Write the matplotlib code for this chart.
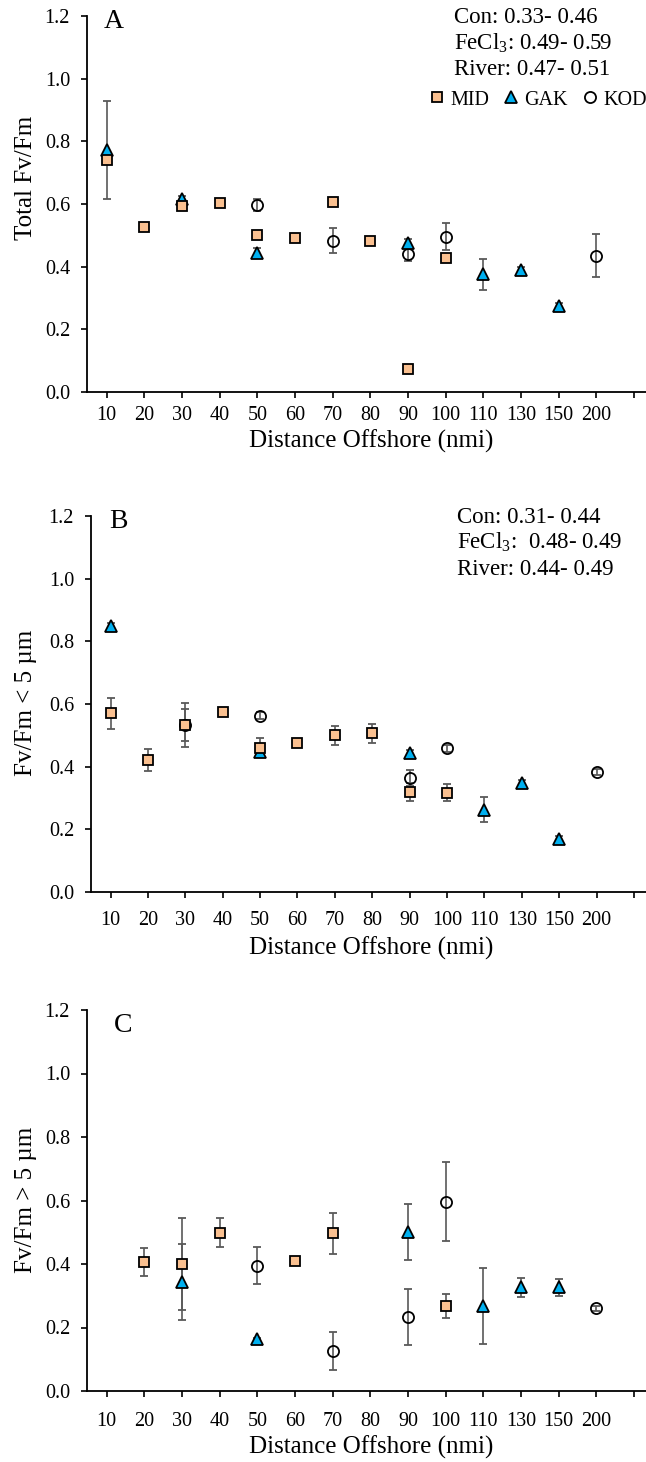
import numpy as np
import matplotlib
matplotlib.use("Agg")
import matplotlib.pyplot as plt
from matplotlib.lines import Line2D
from matplotlib.ticker import FormatStrFormatter

plt.rcParams['font.family'] = ['Liberation Serif', 'DejaVu Serif']
plt.rcParams['mathtext.fontset'] = 'custom'
plt.rcParams['mathtext.rm'] = 'Liberation Serif'
plt.rcParams['mathtext.it'] = 'Liberation Serif:italic'

nan = np.nan

# distance offshore categories (nmi)
distance = ['10', '20', '30', '40', '50', '60', '70', '80', '90', '100', '110', '130', '150', '200']

# Panel A: total Fv/Fm
a_mid = [0.740, 0.527, 0.594, 0.602, 0.500, 0.492, 0.606, 0.483, 0.072, 0.427, nan, nan, nan, nan]
a_mid_err = [0.0, 0.0, 0.0, 0.0, 0.0, 0.0, 0.0, 0.0, 0.0, 0.0, nan, nan, nan, nan]
a_gak = [0.773, nan, 0.615, nan, 0.443, nan, nan, nan, 0.477, nan, 0.376, 0.389, 0.274, nan]
a_gak_err = [0.157, nan, 0.010, nan, 0.015, nan, nan, nan, 0.010, nan, 0.050, 0.010, 0.010, nan]
a_kod = [nan, nan, nan, nan, 0.597, nan, 0.483, nan, 0.440, 0.496, nan, nan, nan, 0.435]
a_kod_err = [nan, nan, nan, nan, 0.020, nan, 0.040, nan, 0.022, 0.043, nan, nan, nan, 0.068]

# Panel B: Fv/Fm < 5 um
b_mid = [0.570, 0.421, 0.533, 0.573, 0.461, 0.477, 0.500, 0.506, 0.320, 0.317, nan, nan, nan, nan]
b_mid_err = [0.050, 0.035, 0.050, 0.005, 0.030, 0.005, 0.030, 0.030, 0.028, 0.028, nan, nan, nan, nan]
b_gak = [0.848, nan, nan, nan, 0.447, nan, nan, nan, 0.444, nan, 0.262, 0.349, 0.169, nan]
b_gak_err = [0.010, nan, nan, nan, 0.010, nan, nan, nan, 0.010, nan, 0.040, 0.010, 0.010, nan]
b_kod = [nan, nan, 0.533, nan, 0.563, nan, nan, nan, 0.364, 0.458, nan, nan, nan, 0.383]
b_kod_err = [nan, nan, 0.070, nan, 0.010, nan, nan, nan, 0.026, 0.012, nan, nan, nan, 0.010]

# Panel C: Fv/Fm > 5 um
c_mid = [nan, 0.405, 0.399, 0.499, nan, 0.411, 0.497, nan, nan, 0.268, nan, nan, nan, nan]
c_mid_err = [nan, 0.044, 0.145, 0.045, nan, 0.005, 0.064, nan, nan, 0.037, nan, nan, nan, nan]
c_gak = [nan, nan, 0.344, nan, 0.163, nan, nan, nan, 0.501, nan, 0.268, 0.326, 0.326, nan]
c_gak_err = [nan, nan, 0.120, nan, 0.005, nan, nan, nan, 0.089, nan, 0.120, 0.029, 0.028, nan]
c_kod = [nan, nan, nan, nan, 0.395, nan, 0.126, nan, 0.234, 0.596, nan, nan, nan, 0.260]
c_kod_err = [nan, nan, nan, nan, 0.058, nan, 0.059, nan, 0.088, 0.124, nan, nan, nan, 0.008]

W, H = 646, 1462
fig = plt.figure(figsize=(W / 100, H / 100), dpi=100)

MID_COLOR = '#FAC090'
GAK_COLOR = '#00B0F0'
ERR_COLOR = '#595959'


def add_axes_px(left, top, bottom):
    return fig.add_axes([left / W, 1 - bottom / H, 1 - left / W, (bottom - top) / H])


def draw_panel(ax, mid, mid_err, gak, gak_err, kod, kod_err):
    x = np.arange(len(distance))
    common = dict(linestyle='none', ecolor=ERR_COLOR, elinewidth=1.2, capsize=3.2,
                  capthick=1.2, markeredgecolor='black', markeredgewidth=1.3)
    ax.errorbar(x, kod, yerr=kod_err, fmt='o', ms=8, mfc='none', **common)
    ax.errorbar(x, gak, yerr=gak_err, fmt='^', ms=8.8, mfc=GAK_COLOR, **common)
    ax.errorbar(x, mid, yerr=mid_err, fmt='s', ms=7.6, mfc=MID_COLOR, **common)
    ax.set_xlim(-0.53, 14.32)
    ax.set_ylim(0, 1.2)
    ax.set_xticks(np.arange(len(distance) + 1))
    ax.set_xticklabels(distance + [''])
    ax.set_yticks(np.arange(0, 1.21, 0.2))
    ax.yaxis.set_major_formatter(FormatStrFormatter('%.1f'))
    for s in ['top', 'right']:
        ax.spines[s].set_visible(False)
    for s in ['left', 'bottom']:
        ax.spines[s].set_linewidth(1.3)
    ax.tick_params(direction='out', length=4, width=1.2, labelsize=14.5)
    ax.tick_params(axis='y', pad=8)


panels = [
    # left, top, bottom (px), data, ylabel, ylabel y (px), letter, letter pos
    (86.7, 16, 392, (a_mid, a_mid_err, a_gak, a_gak_err, a_kod, a_kod_err),
     'Total Fv/Fm', 178, 'A', 114, 22, 21, 413, 441),
    (90.7, 516, 892, (b_mid, b_mid_err, b_gak, b_gak_err, b_kod, b_kod_err),
     'Fv/Fm < 5 µm', 703, 'B', 118, 522, 25, 917, 948),
    (86.7, 1010, 1391, (c_mid, c_mid_err, c_gak, c_gak_err, c_kod, c_kod_err),
     'Fv/Fm > 5 µm', 1200, 'C', 123, 1025, 26, 1417, 1447),
]

axes = []
for left, top, bottom, data, ylab, ylab_y, letter, lx, ly, xpad, xtick_y, xlab_y in panels:
    ax = add_axes_px(left, top, bottom)
    draw_panel(ax, *data)
    ax.tick_params(axis='x', pad=xpad - 15)
    fig.text(26 / W, 1 - ylab_y / H, ylab, rotation=90, ha='center', va='center', fontsize=18)
    fig.text(371 / W, 1 - xlab_y / H, 'Distance Offshore (nmi)', ha='center', va='center', fontsize=18)
    fig.text(lx / W, 1 - ly / H, letter, ha='center', va='center', fontsize=20)
    axes.append(ax)

# treatment ranges
a_notes = ['Con: 0.33- 0.46', 'FeCl$_3$: 0.49- 0.59', 'River: 0.47- 0.51']
a_note_base = [22.7, 49.5, 75]
for txt, yb in zip(a_notes, a_note_base):
    fig.text(454 / W, 1 - yb / H, txt, ha='left', va='baseline', fontsize=16.5)

b_notes = ['Con: 0.31- 0.44', 'FeCl$_3$:  0.48- 0.49', 'River: 0.44- 0.49']
b_note_base = [523.3, 549, 575]
for txt, yb in zip(b_notes, b_note_base):
    fig.text(457 / W, 1 - yb / H, txt, ha='left', va='baseline', fontsize=16.5)

handles = [
    Line2D([], [], linestyle='none', marker='s', ms=7.6, mfc=MID_COLOR, mec='black', mew=1.3),
    Line2D([], [], linestyle='none', marker='^', ms=8.8, mfc=GAK_COLOR, mec='black', mew=1.3),
    Line2D([], [], linestyle='none', marker='o', ms=8, mfc='none', mec='black', mew=1.3),
]
fig.legend(handles, ['MID', 'GAK', 'KOD'], loc='center left',
           bbox_to_anchor=(429 / W, 1 - 100 / H), ncol=3, frameon=False,
           fontsize=14.5, handlelength=0.8, handletextpad=0.25, columnspacing=0.7,
           borderpad=0, borderaxespad=0)

fig.savefig('out.png', dpi=100)
